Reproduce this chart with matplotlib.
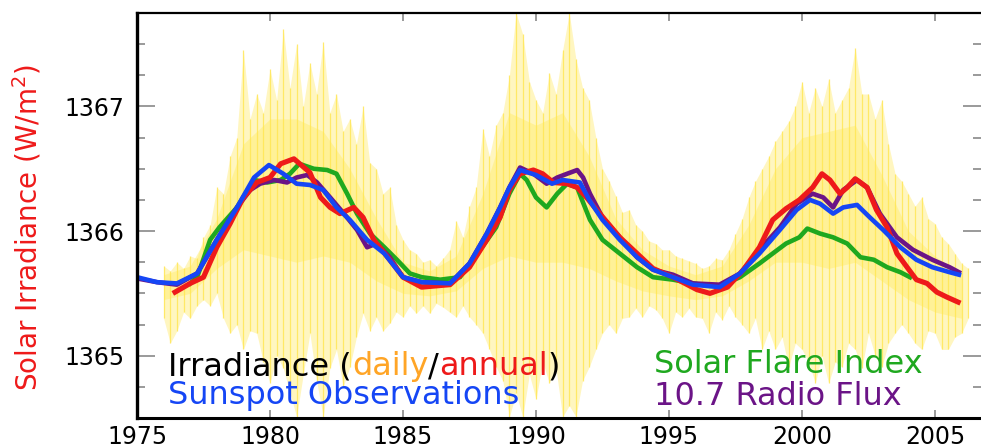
import numpy as np
import matplotlib.pyplot as plt

plt.rcParams['font.family'] = ['DejaVu Sans']

# annual mean irradiance (red)
ann_yr = [1976.43, 1977.0, 1977.5, 1978.0, 1978.5, 1979.0, 1979.5, 1980.0, 1980.4, 1980.9,
          1981.28, 1981.5, 1981.9, 1982.26, 1982.63, 1983.15, 1983.5, 1983.9, 1984.5, 1985.0,
          1985.7, 1986.77, 1987.5, 1988.15, 1988.65, 1989.0, 1989.4, 1989.9, 1990.25, 1990.65,
          1991.17, 1991.55, 1991.9, 1992.4, 1993.15, 1993.8, 1994.4, 1995.15, 1996.05, 1996.54,
          1997.2, 1997.8, 1998.4, 1998.9, 1999.4, 1999.9, 2000.4, 2000.75, 2001.05, 2001.43,
          2001.7, 2002.0, 2002.45, 2002.8, 2003.2, 2003.57, 2003.95, 2004.3, 2004.7, 2005.07,
          2005.45, 2005.87]
ann_val = [1365.51, 1365.58, 1365.63, 1365.87, 1366.06, 1366.27, 1366.39, 1366.43, 1366.54, 1366.58,
           1366.51, 1366.47, 1366.27, 1366.19, 1366.14, 1366.19, 1366.11, 1365.93, 1365.77, 1365.63,
           1365.55, 1365.57, 1365.71, 1365.93, 1366.11, 1366.33, 1366.46, 1366.49, 1366.46, 1366.39,
           1366.38, 1366.35, 1366.27, 1366.14, 1365.95, 1365.82, 1365.70, 1365.63, 1365.53, 1365.50,
           1365.55, 1365.69, 1365.87, 1366.09, 1366.18, 1366.25, 1366.35, 1366.46, 1366.41, 1366.30,
           1366.35, 1366.42, 1366.35, 1366.17, 1366.03, 1365.82, 1365.71, 1365.61, 1365.58, 1365.51,
           1365.47, 1365.43]

# sunspot based reconstruction (blue)
sun_yr = [1975.0, 1975.75, 1976.5, 1977.26, 1978.0, 1978.76, 1979.4, 1979.96, 1980.5, 1981.0,
          1981.5, 1982.0, 1982.5, 1983.0, 1983.65, 1984.3, 1985.0, 1985.7, 1986.77, 1987.5,
          1988.15, 1988.65, 1989.0, 1989.4, 1990.0, 1990.6, 1991.0, 1991.65, 1992.0, 1992.5,
          1993.15, 1993.8, 1994.4, 1995.15, 1995.9, 1996.9, 1997.67, 1998.4, 1999.17, 1999.8,
          2000.3, 2000.68, 2001.17, 2001.55, 2002.07, 2002.55, 2003.05, 2003.7, 2004.3, 2004.9,
          2005.55, 2005.9]
sun_val = [1365.63, 1365.59, 1365.58, 1365.66, 1365.93, 1366.19, 1366.43, 1366.53, 1366.46, 1366.38,
           1366.37, 1366.33, 1366.19, 1366.09, 1365.93, 1365.82, 1365.63, 1365.59, 1365.58, 1365.74,
           1365.98, 1366.19, 1366.35, 1366.49, 1366.45, 1366.38, 1366.41, 1366.39, 1366.25, 1366.09,
           1365.93, 1365.79, 1365.69, 1365.63, 1365.57, 1365.55, 1365.66, 1365.82, 1366.01, 1366.17,
           1366.25, 1366.22, 1366.14, 1366.19, 1366.21, 1366.11, 1366.01, 1365.87, 1365.77, 1365.71,
           1365.67, 1365.65]

# solar flare index (green)
flare_yr = [1977.0, 1977.26, 1977.75, 1978.1, 1978.76, 1979.4, 1979.9, 1980.4, 1980.75, 1981.1,
            1981.65, 1982.15, 1982.5, 1982.9, 1983.27, 1983.76, 1984.3, 1984.77, 1985.26, 1985.7,
            1986.4, 1987.14, 1987.9, 1988.5, 1989.0, 1989.4, 1989.65, 1990.0, 1990.4, 1990.8,
            1991.17, 1991.55, 1991.73, 1992.03, 1992.5, 1993.15, 1993.8, 1994.4, 1995.15, 1996.17,
            1996.9, 1997.67, 1998.4, 1998.9, 1999.4, 1999.9, 2000.2, 2000.68, 2001.17, 2001.7,
            2002.2, 2002.7, 2003.2, 2003.7, 2004.06]
flare_val = [1365.58, 1365.63, 1365.93, 1366.03, 1366.19, 1366.41, 1366.39, 1366.41, 1366.46, 1366.54,
             1366.50, 1366.49, 1366.46, 1366.30, 1366.14, 1365.98, 1365.87, 1365.77, 1365.66, 1365.63,
             1365.61, 1365.63, 1365.85, 1366.03, 1366.30, 1366.46, 1366.41, 1366.27, 1366.19, 1366.30,
             1366.38, 1366.35, 1366.25, 1366.09, 1365.93, 1365.82, 1365.71, 1365.63, 1365.61, 1365.57,
             1365.56, 1365.63, 1365.74, 1365.82, 1365.90, 1365.95, 1366.02, 1365.98, 1365.95, 1365.90,
             1365.79, 1365.77, 1365.71, 1365.67, 1365.63]

# 10.7 cm radio flux (purple)
radio_yr = [1975.0, 1975.75, 1976.5, 1977.26, 1978.0, 1978.76, 1979.26, 1979.63, 1980.15, 1980.64,
            1981.0, 1981.4, 1981.77, 1982.26, 1982.78, 1983.27, 1983.65, 1984.0, 1984.5, 1985.0,
            1985.7, 1986.77, 1987.5, 1988.15, 1988.65, 1989.0, 1989.4, 1989.9, 1990.4, 1990.8,
            1991.17, 1991.55, 1991.77, 1992.03, 1992.5, 1993.15, 1993.8, 1994.4, 1995.15, 1995.9,
            1996.9, 1997.67, 1998.4, 1999.17, 1999.8, 2000.4, 2000.8, 2001.17, 2001.55, 2002.07,
            2002.45, 2002.93, 2003.57, 2004.17, 2004.9, 2005.55, 2005.9]
radio_val = [1365.62, 1365.59, 1365.57, 1365.66, 1365.93, 1366.19, 1366.33, 1366.38, 1366.41, 1366.39,
             1366.43, 1366.45, 1366.39, 1366.27, 1366.14, 1366.01, 1365.87, 1365.90, 1365.79, 1365.63,
             1365.59, 1365.58, 1365.74, 1365.98, 1366.19, 1366.35, 1366.51, 1366.46, 1366.38, 1366.43,
             1366.46, 1366.49, 1366.43, 1366.30, 1366.11, 1365.95, 1365.79, 1365.69, 1365.65, 1365.58,
             1365.57, 1365.66, 1365.85, 1366.03, 1366.22, 1366.30, 1366.27, 1366.19, 1366.33, 1366.41,
             1366.35, 1366.14, 1365.95, 1365.85, 1365.77, 1365.71, 1365.67]

# daily irradiance extremes (yellow spikes), quarter-year steps from 1976.0
daily_yr = np.arange(1976.0, 2006.3, 0.25)
daily_hi = [1365.72, 1365.68, 1365.75, 1365.70, 1365.80, 1365.78, 1365.95, 1366.05,
            1366.35, 1366.30, 1366.60, 1366.75, 1367.45, 1366.90, 1367.10, 1366.95,
            1367.30, 1367.05, 1367.62, 1367.15, 1367.50, 1367.00, 1367.35, 1367.10,
            1367.52, 1366.95, 1367.10, 1366.80, 1366.90, 1366.70, 1367.00, 1366.55,
            1366.50, 1366.30, 1366.35, 1366.05, 1365.93, 1365.85, 1365.82, 1365.75,
            1365.77, 1365.72, 1365.78, 1365.85, 1366.08, 1365.95, 1366.20, 1366.35,
            1366.82, 1366.60, 1366.85, 1366.95, 1367.25, 1367.75, 1367.58, 1367.20,
            1367.05, 1366.95, 1367.27, 1367.10, 1367.45, 1367.75, 1367.38, 1367.15,
            1367.05, 1366.75, 1366.50, 1366.40, 1366.28, 1366.15, 1366.17, 1366.05,
            1366.00, 1365.92, 1365.90, 1365.85, 1365.85, 1365.80, 1365.78, 1365.76,
            1365.74, 1365.70, 1365.72, 1365.78, 1365.77, 1365.85, 1365.98, 1366.10,
            1366.27, 1366.40, 1366.50, 1366.60, 1366.72, 1366.80, 1366.88, 1367.00,
            1367.20, 1366.95, 1367.15, 1367.00, 1367.22, 1366.95, 1367.05, 1367.15,
            1367.47, 1367.10, 1367.10, 1366.90, 1367.05, 1366.70, 1366.46, 1366.40,
            1366.30, 1366.20, 1366.27, 1366.10, 1366.06, 1365.95, 1365.90, 1365.82,
            1365.74, 1365.70]
daily_lo = [1365.30, 1365.10, 1365.20, 1365.35, 1365.30, 1365.40, 1365.45, 1365.40,
            1365.50, 1365.30, 1365.18, 1365.25, 1365.05, 1365.20, 1365.18, 1364.95,
            1364.78, 1365.00, 1364.90, 1364.70, 1364.51, 1364.85, 1365.18, 1364.80,
            1364.51, 1364.90, 1365.05, 1364.75, 1364.91, 1365.15, 1365.34, 1365.20,
            1365.31, 1365.20, 1365.26, 1365.35, 1365.31, 1365.40, 1365.34, 1365.40,
            1365.34, 1365.42, 1365.39, 1365.35, 1365.31, 1365.40, 1365.31, 1365.25,
            1365.18, 1365.05, 1364.91, 1364.80, 1364.51, 1364.70, 1364.51, 1364.85,
            1364.65, 1364.95, 1364.78, 1364.90, 1364.51, 1364.60, 1364.51, 1364.80,
            1364.91, 1365.05, 1365.18, 1365.25, 1365.18, 1365.30, 1365.31, 1365.38,
            1365.31, 1365.40, 1365.37, 1365.30, 1365.18, 1365.35, 1365.31, 1365.38,
            1365.31, 1365.30, 1365.18, 1365.35, 1365.29, 1365.40, 1365.31, 1365.25,
            1365.18, 1365.30, 1365.05, 1365.20, 1365.05, 1365.15, 1364.91, 1365.10,
            1365.05, 1364.95, 1364.78, 1365.00, 1364.78, 1364.95, 1364.91, 1365.10,
            1365.05, 1364.90, 1365.18, 1365.00, 1364.91, 1365.10, 1365.18, 1365.25,
            1365.18, 1365.10, 1365.05, 1365.20, 1365.18, 1365.05, 1365.05, 1365.15,
            1365.18, 1365.30]

# dense part of the daily scatter, yearly from 1976
core_yr = np.arange(1976, 2007)
core_hi = [1365.65, 1365.72, 1366.10, 1366.70, 1366.90, 1366.90, 1366.80, 1366.50, 1366.10, 1365.75,
           1365.68, 1365.80, 1366.30, 1366.95, 1366.85, 1366.95, 1366.60, 1366.10, 1365.85, 1365.72,
           1365.65, 1365.72, 1366.05, 1366.50, 1366.75, 1366.80, 1366.85, 1366.45, 1366.00, 1365.80,
           1365.65]
core_lo = [1365.45, 1365.50, 1365.70, 1365.85, 1365.80, 1365.75, 1365.80, 1365.75, 1365.60, 1365.50,
           1365.48, 1365.52, 1365.70, 1365.80, 1365.75, 1365.75, 1365.70, 1365.60, 1365.52, 1365.48,
           1365.45, 1365.48, 1365.60, 1365.75, 1365.75, 1365.70, 1365.75, 1365.60, 1365.45, 1365.35,
           1365.30]

x_ticks = [1975, 1980, 1985, 1990, 1995, 2000, 2005]

fig = plt.figure(figsize=(9.81, 4.48), dpi=100)
ax = fig.add_axes([137 / 981, 30 / 448, 844 / 981, 405 / 448])

# daily data: pale outer haze, denser core, thin spikes
ax.fill_between(daily_yr, daily_lo, daily_hi, color='#fff6c0', lw=0)
ax.fill_between(core_yr, core_lo, core_hi, color='#ffee70', alpha=0.5, lw=0)
ax.vlines(daily_yr, daily_lo, daily_hi, color='#ffe650', lw=0.9, alpha=0.8)

lw = 3.3
ax.plot(flare_yr, flare_val, color='#1fa81f', lw=lw)
ax.plot(radio_yr, radio_val, color='#6b1487', lw=lw)
ax.plot(ann_yr, ann_val, color='#ee1a1a', lw=3.7)
ax.plot(sun_yr, sun_val, color='#1546f5', lw=lw)

ax.set_xlim(1975, 2006.73)
ax.set_ylim(1364.5, 1367.75)
ax.set_xticks(x_ticks)
ax.set_yticks([1365, 1366, 1367])
ax.set_yticks(np.arange(1364.75, 1367.75, 0.25), minor=True)

ax.tick_params(axis='y', which='major', direction='in', length=13, width=1.4,
               color='#9a9a9a', labelsize=17, pad=9, left=True, right=True)
ax.tick_params(axis='y', which='minor', direction='in', length=6, width=1.4,
               color='#9a9a9a', left=True, right=True)
ax.tick_params(axis='x', which='major', direction='in', length=6, width=1.4,
               color='#9a9a9a', labelsize=17, pad=5, top=True, bottom=True)
ax.tick_params(axis='x', which='minor', bottom=False, top=False)

ax.spines['right'].set_visible(False)
ax.spines['left'].set_linewidth(2.4)
ax.spines['bottom'].set_linewidth(2.2)
ax.spines['top'].set_linewidth(1.6)

ax.set_ylabel('Solar Irradiance (W/m$^2$)', color='#ee1a1a', fontsize=20)
ax.yaxis.set_label_coords(-0.111, 0.47)

fs = 23
t1 = ax.text(0.037, 0.106, 'Irradiance (', transform=ax.transAxes, fontsize=fs,
             color='black', va='baseline')
t2 = ax.annotate('daily', xy=(1, 0), xycoords=t1, va='bottom', fontsize=fs, color='#ffa526')
t3 = ax.annotate('/', xy=(1, 0), xycoords=t2, va='bottom', fontsize=fs, color='black')
t4 = ax.annotate('annual', xy=(1, 0), xycoords=t3, va='bottom', fontsize=fs, color='#ee1a1a')
ax.annotate(')', xy=(1, 0), xycoords=t4, va='bottom', fontsize=fs, color='black')
ax.text(0.037, 0.034, 'Sunspot Observations', transform=ax.transAxes, fontsize=fs,
        color='#1546f5', va='baseline')
ax.text(0.612, 0.111, 'Solar Flare Index', transform=ax.transAxes, fontsize=fs,
        color='#1fa81f', va='baseline')
ax.text(0.612, 0.032, '10.7 Radio Flux', transform=ax.transAxes, fontsize=fs,
        color='#6b1487', va='baseline')

plt.savefig('out.png', dpi=100)
